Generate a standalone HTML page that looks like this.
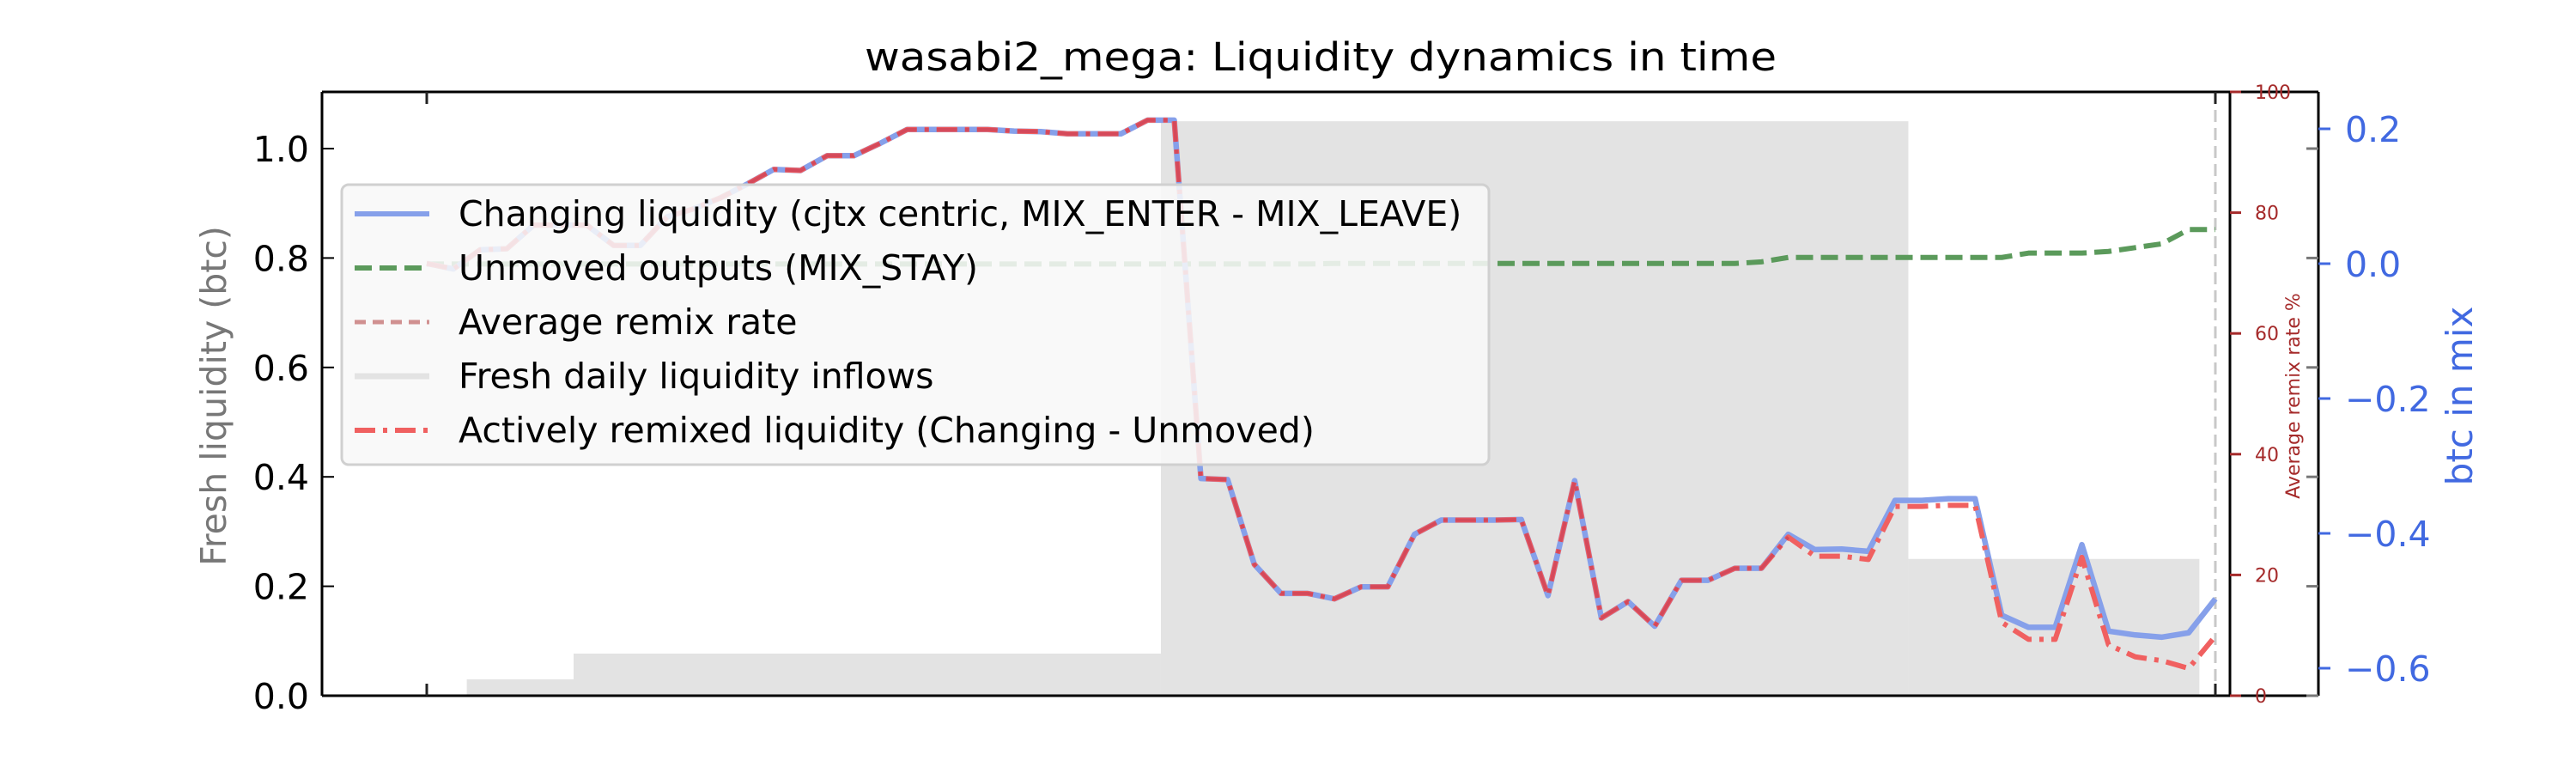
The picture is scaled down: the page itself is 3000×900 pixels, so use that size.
<!DOCTYPE html>
<html><head><meta charset="utf-8"><style>
html,body{margin:0;padding:0;background:#fff;}
svg{display:block;font-family:"DejaVu Sans","Liberation Sans",sans-serif;}
</style></head><body>
<svg id="chart" width="3000" height="900" viewBox="0 0 3000 900">
<text x="1538" y="82" font-size="45" text-anchor="middle" textLength="1062" lengthAdjust="spacingAndGlyphs">wasabi2_mega: Liquidity dynamics in time</text>
<g id="bars"></g>
<g id="lines"></g>
<g id="axes"></g>
<g id="legend"></g>
</svg>
<script>
const changing = [0.79,0.78,0.815,0.817,0.86,0.86,0.86,0.823,0.823,0.875,0.89,0.91,0.935,0.962,0.96,0.987,0.987,1.01,1.035,1.035,1.035,1.035,1.032,1.031,1.027,1.027,1.027,1.052,1.052,0.397,0.395,0.24,0.187,0.187,0.177,0.199,0.199,0.295,0.321,0.321,0.321,0.322,0.183,0.393,0.142,0.172,0.127,0.211,0.211,0.233,0.233,0.295,0.267,0.268,0.264,0.357,0.357,0.36,0.36,0.147,0.125,0.125,0.276,0.118,0.111,0.107,0.115,0.177];
const active = [0.79,0.78,0.815,0.817,0.86,0.86,0.86,0.823,0.823,0.875,0.89,0.91,0.935,0.962,0.96,0.987,0.987,1.01,1.035,1.035,1.035,1.035,1.032,1.031,1.027,1.027,1.027,1.052,1.052,0.397,0.395,0.24,0.187,0.187,0.177,0.199,0.199,0.295,0.321,0.321,0.321,0.322,0.183,0.393,0.142,0.172,0.127,0.211,0.211,0.233,0.233,0.29,0.255,0.255,0.249,0.346,0.346,0.348,0.348,0.134,0.103,0.103,0.253,0.093,0.071,0.064,0.05,0.109];
const unmoved = [0.789,0.789,0.789,0.789,0.789,0.789,0.789,0.789,0.789,0.789,0.789,0.789,0.789,0.789,0.789,0.789,0.789,0.789,0.789,0.789,0.789,0.789,0.789,0.789,0.789,0.789,0.789,0.789,0.789,0.789,0.789,0.789,0.789,0.789,0.79,0.79,0.79,0.79,0.79,0.79,0.79,0.79,0.79,0.79,0.79,0.79,0.79,0.79,0.79,0.79,0.793,0.801,0.801,0.801,0.801,0.801,0.801,0.801,0.801,0.801,0.809,0.809,0.809,0.812,0.819,0.826,0.852,0.852];
const barStart = [1.5,5.5,27.5,55.5];
const barEnd = [5.5,27.5,55.5,66.4];
const barValues = [0.03,0.077,1.05,0.25];
const leftTicks = [0.0,0.2,0.4,0.6,0.8,1.0];
const remixTicks = [0,20,40,60,80,100];
const btcTicks = [0.2,0.0,-0.2,-0.4,-0.6];

const NS="http://www.w3.org/2000/svg";
const X0=375,X1=2597,X2=2700,Y0=107,Y1=810;
const xs=i=>497+i*(2580-497)/67;
const yL=v=>Y1-v*637;
const yR=p=>Y1-p/100*703;
const yB=v=>307-v*785;
function mk(tag,attrs,parent){const e=document.createElementNS(NS,tag);for(const k in attrs)e.setAttribute(k,attrs[k]);parent.appendChild(e);return e;}
const gb=document.getElementById('bars'),gl=document.getElementById('lines'),ga=document.getElementById('axes'),gg=document.getElementById('legend');

barValues.forEach((v,i)=>{
  const r=mk('rect',{x:xs(barStart[i]),y:yL(v),width:xs(barEnd[i])-xs(barStart[i]),height:Y1-yL(v),fill:'#e3e3e3'},gb);
  
  
});
const vm=mk('line',{x1:2580,y1:Y0,x2:2580,y2:Y1,stroke:'#c8c8c8','stroke-width':3,'stroke-dasharray':'14,7'},gl);


function poly(arr,style,name){
  const p=mk('polyline',Object.assign({points:arr.map((v,i)=>xs(i)+','+yL(v)).join(' '),fill:'none','stroke-linejoin':'round'},style),gl);
  
  
}
poly(unmoved,{stroke:'#5b9a5b','stroke-width':6,'stroke-dasharray':'20,9'},'unmoved-line');
poly(changing,{stroke:'#86a0ea','stroke-width':6.5},'changing-line');
poly(active,{stroke:'#f06060','stroke-width':6,'stroke-dasharray':'24,9,5,9'},'active-line');
poly(active.slice(0,52),{stroke:'#c8405a','stroke-width':4,'stroke-dasharray':'24,9,5,9','opacity':0.7},'active-overlap');

mk('line',{x1:X0,y1:Y0,x2:X2,y2:Y0,stroke:'#000','stroke-width':3},ga);
mk('line',{x1:X0,y1:Y1,x2:X2,y2:Y1,stroke:'#000','stroke-width':3},ga);
[X0,X1,X2].forEach(x=>mk('line',{x1:x,y1:Y0,x2:x,y2:Y1,stroke:'#000','stroke-width':3},ga));
[497,2580].forEach(x=>{mk('line',{x1:x,y1:Y0,x2:x,y2:Y0+14,stroke:'#222','stroke-width':3},ga);mk('line',{x1:x,y1:Y1,x2:x,y2:Y1-14,stroke:'#222','stroke-width':3},ga);});
leftTicks.forEach(v=>{
  mk('line',{x1:X0,y1:yL(v),x2:X0+14,y2:yL(v),stroke:'#000','stroke-width':2},ga);
  mk('line',{x1:X2-14,y1:yL(v),x2:X2,y2:yL(v),stroke:'#777','stroke-width':3},ga);
  const t=mk('text',{x:360,y:yL(v)+15,'font-size':41,'text-anchor':'end'},ga);t.textContent=v.toFixed(1);
  
  
});
remixTicks.forEach(p=>{
  mk('line',{x1:X1,y1:yR(p),x2:X1+13,y2:yR(p),stroke:'#a52a2a','stroke-width':3},ga);
  const t=mk('text',{x:2626,y:yR(p)+8,'font-size':22,fill:'#a52a2a'},ga);t.textContent=p;
  
  
});
btcTicks.forEach(v=>{
  mk('line',{x1:X2,y1:yB(v),x2:X2+14,y2:yB(v),stroke:'#4169e1','stroke-width':3},ga);
  const t=mk('text',{x:2731,y:yB(v)+15,'font-size':41,fill:'#4169e1'},ga);t.textContent=(v<0?'\u2212':'')+Math.abs(v).toFixed(1);
  
  
});
</script>
<script>
(function(){
const svg=document.getElementById('chart');const NS="http://www.w3.org/2000/svg";
function txt(a,s,name){const e=document.createElementNS(NS,'text');for(const k in a)e.setAttribute(k,a[k]);e.textContent=s;svg.appendChild(e);


return e;}
txt({x:0,y:0,'font-size':41,fill:'#777','text-anchor':'middle',transform:'translate(263,461) rotate(-90)'},'Fresh liquidity (btc)','y-axis-title-left');
txt({x:0,y:0,'font-size':22,fill:'#a52a2a','text-anchor':'middle',transform:'translate(2678,461) rotate(-90)'},'Average remix rate %','y-axis-title-remix');
txt({x:0,y:0,'font-size':42,fill:'#4169e1','text-anchor':'middle',transform:'translate(2879,461) rotate(-90)'},'btc in mix','y-axis-title-btc');
const g=document.getElementById('legend');
function mk(tag,a){const e=document.createElementNS(NS,tag);for(const k in a)e.setAttribute(k,a[k]);g.appendChild(e);return e;}
mk('rect',{x:398,y:215,width:1336,height:326,rx:8,fill:'rgba(248,248,248,0.87)',stroke:'#d0d0d0','stroke-width':3});
const rows=[
 ['Changing liquidity (cjtx centric, MIX_ENTER - MIX_LEAVE)',{stroke:'#86a0ea','stroke-width':6}],
 ['Unmoved outputs (MIX_STAY)',{stroke:'#5b9a5b','stroke-width':6,'stroke-dasharray':'20,9'}],
 ['Average remix rate',{stroke:'#d09090','stroke-width':5,'stroke-dasharray':'13,8'}],
 ['Fresh daily liquidity inflows',{stroke:'#e3e3e3','stroke-width':7}],
 ['Actively remixed liquidity (Changing - Unmoved)',{stroke:'#f06060','stroke-width':6,'stroke-dasharray':'24,9,5,9'}]
];
rows.forEach((r,i)=>{
 const y=249+i*63;
 const l=mk('line',Object.assign({x1:413,y1:y,x2:500,y2:y},r[1]));
 
 
 const t=mk('text',{x:534,y:y+14,'font-size':41});t.textContent=r[0];
 
 
});
})();
</script>
</body></html>
